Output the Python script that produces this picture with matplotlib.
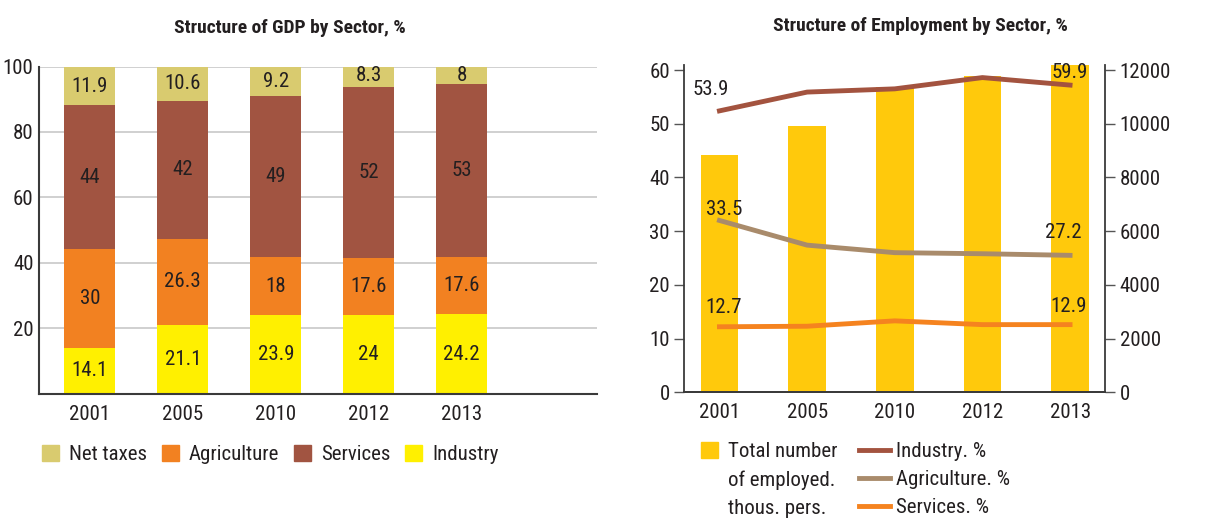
import numpy as np
import matplotlib
matplotlib.use("Agg")
import matplotlib.pyplot as plt
from matplotlib import font_manager
from matplotlib.patches import Patch
from matplotlib.lines import Line2D

# the original uses a condensed face; pick a narrow family that also has a bold weight
faces = {}
for f in font_manager.fontManager.ttflist:
    if "Narrow" in f.name or "Condensed" in f.name:
        faces.setdefault(f.name, set()).add((str(f.weight), f.style))
narrow = None
for name in ["Roboto Condensed", "Liberation Sans Narrow", "Open Sans Condensed",
             "Noto Sans Condensed", "DejaVu Sans Condensed"] + sorted(faces):
    if name in faces:
        ws = {w for w, s in faces[name] if s == "normal"}
        if ("400" in ws or "normal" in ws or "regular" in ws) and ("700" in ws or "bold" in ws):
            narrow = name
            break
if narrow is None and faces:
    narrow = sorted(faces)[0]
FS = 15 if narrow else 12.5
plt.rcParams['font.family'] = [narrow or 'DejaVu Sans', 'DejaVu Sans']

years = ["2001", "2005", "2010", "2012", "2013"]

# GDP structure, %
industry_gdp = [14.1, 21.1, 23.9, 24, 24.2]
agriculture_gdp = [30, 26.3, 18, 17.6, 17.6]
services_gdp = [44, 42, 49, 52, 53]
net_taxes = [11.9, 10.6, 9.2, 8.3, 8]

# employment
employed_total = [8820, 9920, 11370, 11780, 12170]   # thous. pers.
industry_emp = [52.4, 55.9, 56.5, 58.6, 57.2]
agriculture_emp = [32.0, 27.4, 26.0, 25.8, 25.5]
services_emp = [12.2, 12.3, 13.3, 12.6, 12.6]
# printed point labels (first and last year)
industry_lbl = ["53.9", "59.9"]
agriculture_lbl = ["33.5", "27.2"]
services_lbl = ["12.7", "12.9"]

c_tax = "#d9cb6f"
c_agr = "#f28121"
c_srv = "#a15441"
c_ind = "#fff000"
c_bar = "#ffc90c"
c_line_ind = "#a3533f"
c_line_agr = "#a98b6b"
c_line_srv = "#f5831f"
txt = "#231f20"

fig = plt.figure(figsize=(12.21, 5.2), dpi=100)

# ---- left: GDP
ax1 = fig.add_axes([0.032, 0.243, 0.457, 0.629])
x = np.arange(len(years))
w = 0.55
b1 = ax1.bar(x, industry_gdp, w, color=c_ind, zorder=2)
bot = np.array(industry_gdp)
b2 = ax1.bar(x, agriculture_gdp, w, bottom=bot, color=c_agr, zorder=2)
bot = bot + agriculture_gdp
b3 = ax1.bar(x, services_gdp, w, bottom=bot, color=c_srv, zorder=2)
bot = bot + services_gdp
b4 = ax1.bar(x, net_taxes, w, bottom=bot, color=c_tax, zorder=2)

for bars, vals in [(b1, industry_gdp), (b2, agriculture_gdp), (b3, services_gdp), (b4, net_taxes)]:
    for r, v in zip(bars, vals):
        cy = r.get_y() + r.get_height() / 2
        cy = min(cy, 97.3)
        ax1.text(r.get_x() + r.get_width() / 2, cy, f"{v:g}", ha="center", va="center",
                 fontsize=FS, color=txt, zorder=3)

ax1.set_ylim(0, 100)
ax1.set_xlim(-0.545, 5.455)
ax1.set_yticks([20, 40, 60, 80, 100])
ax1.set_xticks(x)
ax1.set_xticklabels(years)
ax1.yaxis.grid(True, color="#c8c8c8", lw=1.2, zorder=0)
ax1.tick_params(length=0, labelsize=FS, colors=txt, pad=4)
ax1.tick_params(axis="x", pad=8)
for s in ["top", "right"]:
    ax1.spines[s].set_visible(False)
for s in ["left", "bottom"]:
    ax1.spines[s].set_color("#3a3a3a")
    ax1.spines[s].set_linewidth(1.5)
ax1.set_title("Structure of GDP by Sector, %", fontsize=FS - 1, fontweight="bold",
              color=txt, pad=24, x=0.45)

handles1 = [Patch(color=c_tax, label="Net taxes"), Patch(color=c_agr, label="Agriculture"),
            Patch(color=c_srv, label="Services"), Patch(color=c_ind, label="Industry")]
ax1.legend(handles=handles1, ncol=4, loc="upper left", bbox_to_anchor=(-0.028, -0.1),
           frameon=False, fontsize=FS, handlelength=0.8, handleheight=0.8,
           handletextpad=0.5, columnspacing=0.7, labelcolor=txt)

# ---- right: employment
ax2 = fig.add_axes([0.5605, 0.2456, 0.3446, 0.630])
ax3 = ax2.twinx()
ax2.set_zorder(ax3.get_zorder() + 1)
ax2.patch.set_visible(False)

ax3.bar(x, employed_total, 0.43, color=c_bar, zorder=1)
ax3.set_ylim(0, 12200)
ax3.set_yticks(np.arange(0, 12001, 2000))

ax2.plot(x, industry_emp, color=c_line_ind, lw=3.5)
ax2.plot(x, agriculture_emp, color=c_line_agr, lw=3.5)
ax2.plot(x, services_emp, color=c_line_srv, lw=3.5)
ax2.set_ylim(0, 61)
ax2.set_xlim(-0.4, 4.4)
ax2.set_yticks(np.arange(0, 61, 10))
ax2.set_xticks(x)
ax2.set_xticklabels(years)

lbl_pos = [(industry_lbl, [(-0.1, 3.9), (0.0, 2.4)]),
           (agriculture_lbl, [(0.05, 2.0), (-0.08, 4.2)]),
           (services_lbl, [(0.05, 3.5), (-0.02, 3.3)])]
for (lbls, offs), vals in zip(lbl_pos, [industry_emp, agriculture_emp, services_emp]):
    for lab, (dx, dy), xi, yi in zip(lbls, offs, [0, 4], [vals[0], vals[-1]]):
        ax2.text(xi + dx, yi + dy, lab, ha="center", va="center", fontsize=FS, color=txt)

for a in (ax2, ax3):
    a.spines["top"].set_visible(False)
    for s in ["left", "right", "bottom"]:
        a.spines[s].set_color("#3a3a3a")
        a.spines[s].set_linewidth(1.3)
    a.tick_params(labelsize=FS, colors=txt, length=7, width=1, color="#555555")
ax2.spines["right"].set_visible(False)
ax3.spines["left"].set_visible(False)
ax2.tick_params(axis="x", length=0, pad=8)
ax3.tick_params(axis="x", length=0)
ax2.set_title("Structure of Employment by Sector, %", fontsize=FS - 1, fontweight="bold",
              color=txt, pad=24, x=0.56)

# bar legend: square on the first row, label wraps over three rows
blank = Patch(color="none")
leg2 = ax2.legend(handles=[Patch(color=c_bar), blank, blank],
                  labels=["Total number", "of employed.", "thous. pers."],
                  loc="upper left", bbox_to_anchor=(-0.005, -0.095), frameon=False, fontsize=FS,
                  handlelength=0.8, handleheight=0.8, handletextpad=0.5, labelcolor=txt,
                  labelspacing=0.42)
ax2.add_artist(leg2)
handles2 = [Line2D([], [], color=c_line_ind, lw=3.5, label="Industry. %"),
            Line2D([], [], color=c_line_agr, lw=3.5, label="Agriculture. %"),
            Line2D([], [], color=c_line_srv, lw=3.5, label="Services. %")]
ax2.legend(handles=handles2, loc="upper left", bbox_to_anchor=(0.37, -0.095), frameon=False,
           fontsize=FS, handlelength=1.5, handleheight=0.8, handletextpad=0.3,
           labelspacing=0.42, labelcolor=txt)

fig.savefig("out.png", dpi=100)
